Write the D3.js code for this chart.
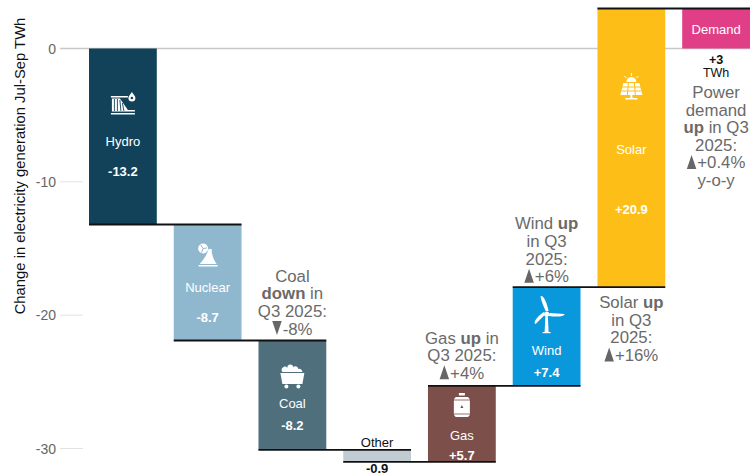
<!DOCTYPE html>
<html><head><meta charset="utf-8">
<script src="https://cdnjs.cloudflare.com/ajax/libs/d3/7.8.5/d3.min.js"></script>
<style>html,body{margin:0;padding:0;background:#fff}svg{display:block}text{font-family:"Liberation Sans",Arial,sans-serif}</style>
</head><body><svg id="c" width="750" height="476"></svg>
<script>
const categories=["Hydro","Nuclear","Coal","Other","Gas","Wind","Solar","Demand"];
const changes=[-13.2,-8.7,-8.2,-0.9,5.7,7.4,20.9];
const demandChange=3;
const valueLabels=["-13.2","-8.7","-8.2","-0.9","+5.7","+7.4","+20.9"];
const colors=["#12425a","#8fb8ce","#4f6f7d","#c0ccd2","#7c4f4a","#0a98dc","#fdbf17","#e03f87"];
const yTicks=[0,-10,-20,-30];
const notes=[
 {at:"Coal",gap:6,lines:["Coal","*down* in","Q3 2025:","v-8%"]},
 {at:"Gas",gap:7,lines:["Gas *up* in","Q3 2025:","^+4%"]},
 {at:"Wind",gap:5,lines:["Wind *up*","in Q3","2025:","^+6%"]},
 {at:"Solar",below:21,lines:["Solar *up*","in Q3","2025:","^+16%"]},
 {at:"Demand",top:98,lines:["Power","demand","*up* in Q3","2025:","^+0.4%","y-o-y"]}
];
const svg=d3.select("#c");
const y=d3.scaleLinear().domain([0,-30]).range([48.5,448.5]);
const x=d3.scaleBand().domain(categories).range([89,750]).paddingInner(0.2).paddingOuter(0);
let run=0;const steps=categories.map((c,i)=>{
  const v=i<changes.length?changes[i]:demandChange;
  let s;
  if(i<changes.length){s={c,v,start:run,end:run+v,color:colors[i]};run+=v;}
  else s={c,v,start:0,end:v,color:colors[i]};
  return s;});
const g=svg.append("g");
g.selectAll("line.g").data(yTicks.slice(1)).join("line").attr("x1",60).attr("x2",83)
 .attr("y1",d=>y(d)).attr("y2",d=>y(d)).attr("stroke","#e2e2e2").attr("stroke-width",1);
g.append("line").attr("x1",60).attr("x2",750).attr("y1",y(0)).attr("y2",y(0)).attr("stroke","#c8c8c8").attr("stroke-width",1.5);
g.selectAll("text.t").data(yTicks).join("text").attr("x",56).attr("y",d=>y(d)+5).attr("text-anchor","end")
 .attr("font-size",14).attr("fill","#666").text(d=>d);
svg.append("text").attr("transform",`translate(24.5,${y(0)+117.5}) rotate(-90)`).attr("text-anchor","middle")
 .attr("font-size",14.8).attr("fill","#111").text("Change in electricity generation Jul-Sep TWh");
svg.selectAll("rect.b").data(steps).join("rect").attr("x",d=>x(d.c)).attr("width",x.bandwidth())
 .attr("y",d=>y(Math.max(d.start,d.end))).attr("height",d=>Math.abs(y(d.start)-y(d.end))).attr("fill",d=>d.color);
steps.forEach((d,i)=>{ if(i>=steps.length-1) return;
  const nx=steps[i+1];
  svg.append("line").attr("x1",x(d.c)).attr("x2",x(nx.c)+x.bandwidth()).attr("y1",y(d.end)).attr("y2",y(d.end))
   .attr("stroke","#111").attr("stroke-width",1.8);
});
const inBar={Hydro:[141,171],Nuclear:[287,317],Coal:[403,425],Gas:[435,455],Wind:[350,372],Solar:[149,209]};
const cx=c=>x(c)+x.bandwidth()/2;
steps.forEach((d,i)=>{const p=inBar[d.c]; if(!p) return;
  svg.append("text").attr("x",cx(d.c)).attr("y",p[0]+4.5).attr("text-anchor","middle").attr("font-size",13).attr("fill","#fff").text(d.c);
  svg.append("text").attr("x",cx(d.c)).attr("y",p[1]+4.5).attr("text-anchor","middle").attr("font-size",13).attr("font-weight","bold").attr("fill","#fff").text(valueLabels[i]);
});
svg.append("text").attr("x",cx("Other")).attr("y",447).attr("text-anchor","middle").attr("font-size",13).attr("fill","#111").text("Other");
svg.append("text").attr("x",cx("Other")).attr("y",473.2).attr("text-anchor","middle").attr("font-size",13).attr("font-weight","bold").attr("fill","#111").text(valueLabels[3]);
svg.append("text").attr("x",cx("Demand")).attr("y",34).attr("text-anchor","middle").attr("font-size",13).attr("fill","#fff").text("Demand");
svg.append("text").attr("x",cx("Demand")).attr("y",64).attr("text-anchor","middle").attr("font-size",12.5).attr("font-weight","bold").attr("fill","#111").text("+"+demandChange);
svg.append("text").attr("x",cx("Demand")).attr("y",77).attr("text-anchor","middle").attr("font-size",12.5).attr("fill","#111").text("TWh");
const LH=17.6, FS=16.8;
notes.forEach(n=>{
  const s=steps.find(d=>d.c===n.at);
  let base;
  if(n.top) base=n.top;
  else if(n.below) base=y(s.start)+n.below;
  else base=y(Math.max(s.start,s.end))-n.gap-(n.lines.length-1)*LH;
  n.lines.forEach((ln,i)=>{
    const ly=base+i*LH;
    const tri=ln[0]==="^"?1:ln[0]==="v"?-1:0;
    const txt=tri?ln.slice(1):ln;
    const t=svg.append("text").attr("y",ly).attr("font-size",FS).attr("fill","#6a6a6a").attr("text-anchor","start");
    txt.split("*").forEach((seg,k)=>{ if(seg) t.append("tspan").attr("font-weight",k%2?"bold":"normal").text(seg); });
    const w=t.node().getComputedTextLength();
    const tw=tri?9.5:0, gap=tri?1:0;
    const left=cx(n.at)-(w+tw+gap)/2;
    t.attr("x",left+tw+gap);
    if(tri){const b=ly+0.5,h=14;
      const pts=tri>0?[[left,b],[left+tw,b],[left+tw/2,b-h]]:[[left,b-h],[left+tw,b-h],[left+tw/2,b]];
      svg.append("path").attr("d",d3.line()(pts)+"Z").attr("fill","#666");}
  });
});
function icon(c,cy){return svg.append("g").attr("transform",`translate(${cx(c)},${cy})`).attr("fill","#fff").attr("stroke","none");}
// hydro
let ic=icon("Hydro",104);
ic.append("path").attr("d","M-12,-8H5V-6.5H-12ZM-11,-5.5H-3L5,6H12V7.5H-11Z");
ic.append("path").attr("d","M-8.5,-5V7M-5.5,-5V7M-3,-4L-2,7M-0.5,-1L1,7").attr("stroke","#12425a").attr("stroke-width",0.9).attr("fill","none");
ic.append("path").attr("d","M-12,9H12V10.5H-12Z");
ic.append("path").attr("d","M9,-12C11,-9 12.5,-8 12.5,-6A3.5,3.5 0 0 1 5.5,-6C5.5,-8 7,-9 9,-12Z");
ic.append("circle").attr("cx",9).attr("cy",-6).attr("r",1.3).attr("fill","#12425a");
// nuclear
ic=icon("Nuclear",254);
ic.append("path").attr("d","M1,-5H4C4,1 6,6 9,10H-8C-4,6 -1,1 1,-5Z M-9,11H10V12.5H-9Z");
ic.append("circle").attr("cx",-4.5).attr("cy",-5.5).attr("r",5);
ic.append("path").attr("d","M-4.5,-5.5L-7,-9M-4.5,-5.5L-1,-6M-4.5,-5.5L-6,-1.5M0.5,-7H6").attr("stroke","#8fb8ce").attr("stroke-width",1);
// coal
ic=icon("Coal",376);
ic.append("path").attr("d","M-12,-3H12L10,8H-10Z");
ic.append("path").attr("d","M-10,-4A3,3 0 0 1 -5,-8A3,3 0 0 1 1,-9A3,3 0 0 1 6,-7A3,3 0 0 1 10,-4Z");
ic.append("circle").attr("cx",-6).attr("cy",10.5).attr("r",2);
ic.append("circle").attr("cx",6).attr("cy",10.5).attr("r",2);
// gas
ic=icon("Gas",406);
ic.append("path").attr("d","M-3,-13H3V-10.5H-3Z M-6,-9H6Q8,-8 8,-5V8Q8,10 6,11H-6Q-8,10 -8,8V-5Q-8,-8 -6,-9Z");
ic.append("path").attr("d","M-8,-6H8M-8,8H8").attr("stroke","#7c4f4a").attr("stroke-width",0.8);
ic.append("path").attr("d","M0,-1L1.5,2H-1.5Z").attr("fill","#7c4f4a");
// wind
ic=icon("Wind",314);
ic.append("path").attr("d","M-1.2,2H1.2L2,18H-2Z");
ic.append("circle").attr("r",2.6);
ic.append("path").attr("d","M-1,-3C-4,-10 -6,-15 -6,-18C-3,-19 0,-12 2,-3Z");
ic.append("path").attr("d","M3,-1L18,0C17,3 10,3 2,2Z");
ic.append("path").attr("d","M-2,1L-11,10C-14,9 -10,3 -3,-2Z");
ic.append("rect").attr("x",-4).attr("y",18).attr("width",8).attr("height",1.2);
// solar
ic=icon("Solar",88);
ic.append("path").attr("d","M-8,-5H8L11,7H-11Z");
ic.append("path").attr("d","M-3,-5L-4,7M3,-5L4,7M-10,-1H10M-10,3H10").attr("stroke","#fdbf17").attr("stroke-width",1);
ic.append("path").attr("d","M-1,7H1V10H-1ZM-6,10H6V11.5H-6Z");
ic.append("path").attr("d","M-5,-6A5,5 0 0 1 5,-6Z");
ic.append("path").attr("d","M0,-12V-15M-5,-10L-7,-12M5,-10L7,-12").attr("stroke","#fff").attr("stroke-width",1);
</script></body></html>
